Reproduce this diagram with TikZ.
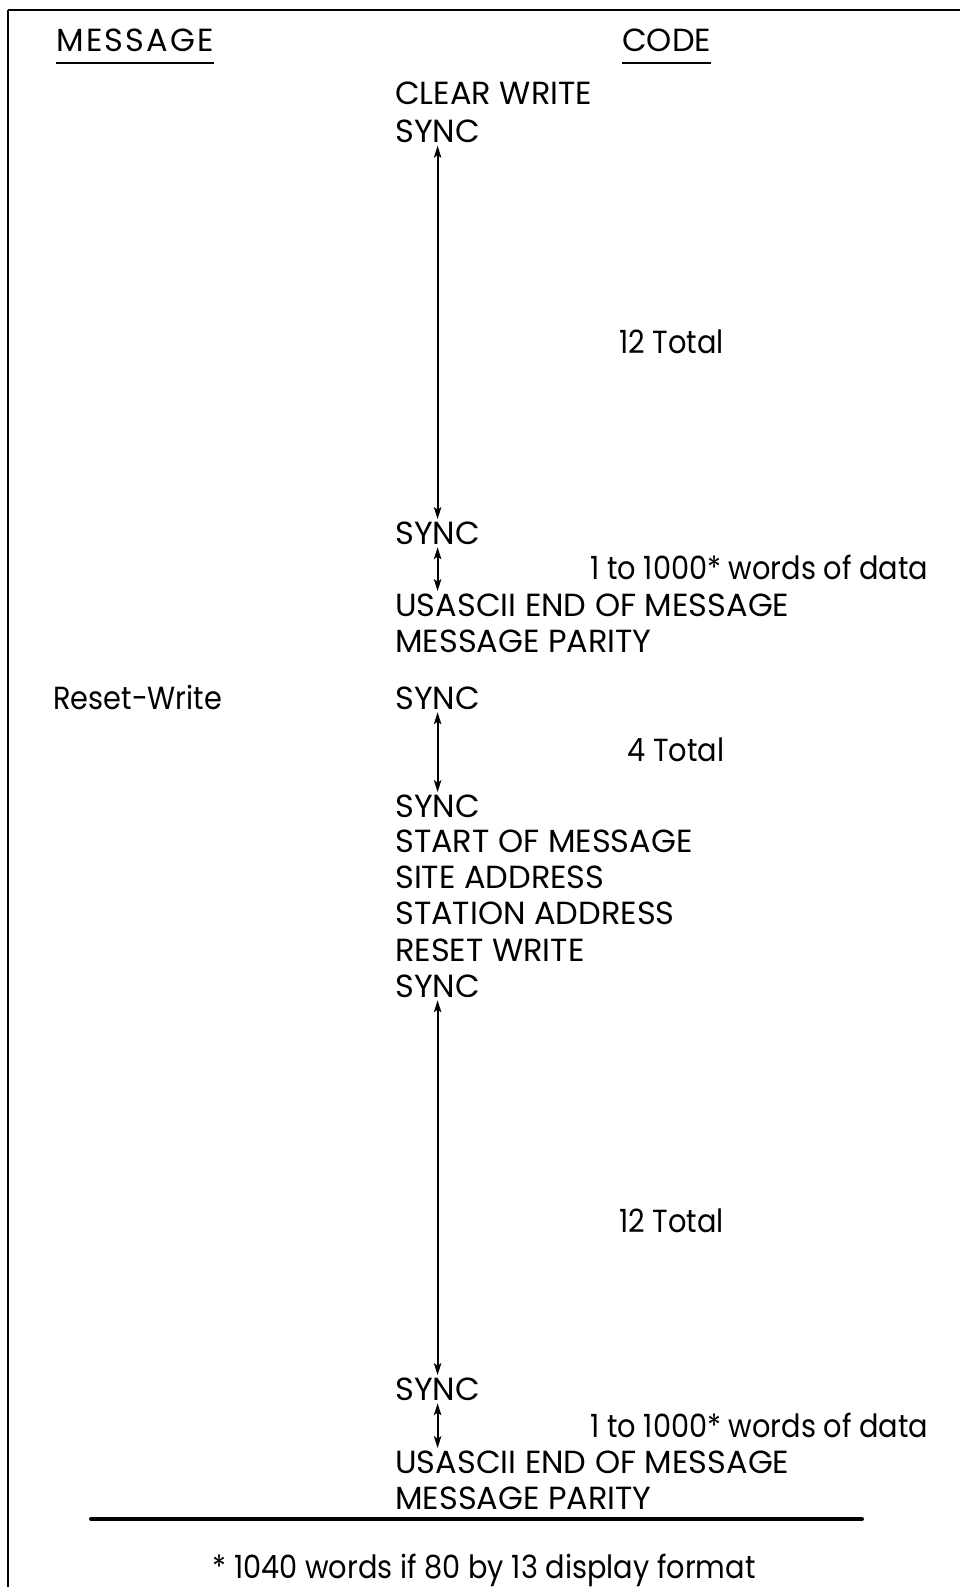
\documentclass[tikz,border=0pt]{standalone}
\usepackage{fontspec}
\setmainfont{Poppins}
\newfontfamily\lblfont{Poppins}[FakeStretch=0.9]
\usetikzlibrary{arrows.meta}
\begin{document}
\begin{tikzpicture}[x=0.75pt,y=-0.75pt,
  txt/.style={anchor=base west,inner sep=0pt,font=\fontsize{24pt}{28pt}\selectfont},
  lbl/.style={txt,font=\lblfont\fontsize{24pt}{28pt}\selectfont},
  span/.style={{Stealth[length=9pt,width=5.5pt,inset=2pt]}-{Stealth[length=9pt,width=5.5pt,inset=2pt]},line width=1.6pt,shorten <=2pt,shorten >=1.5pt},
  hdrline/.style={line width=2pt}]
\useasboundingbox (0,0) rectangle (960,1587);
% frame
\coordinate (ftl) at (8,10);
\coordinate (ftr) at (960,10);
\coordinate (fbl) at (8,1587);
\draw[line width=2.2pt] (ftr) -- (ftl);
\draw[line width=1.6pt] (ftl) -- (fbl);
% headers
\node[txt,font=\addfontfeature{LetterSpace=7}\fontsize{24pt}{28pt}\selectfont] (hmsg) at (56,52) {MESSAGE};
\node[txt] (hcode) at (622,52) {CODE};
\draw[hdrline] ([yshift=-8pt]hmsg.south west) -- ([yshift=-8pt]hmsg.south east);
\draw[hdrline] ([yshift=-8pt]hcode.south west) -- ([yshift=-8pt]hcode.south east);
% first block
\node[txt] (cw) at (395,105) {CLEAR WRITE};
\node[txt] (s1) at (395,142.5) {SYNC};
\node[lbl] (t1) at (619,353) {12 Total};
\node[txt] (s2) at (395,544) {SYNC};
\node[lbl] (d1) at (590,579.5) {1 to 1000* words of data};
\node[txt] (u1) at (395,616) {USASCII END OF MESSAGE};
\node[txt] (p1) at (395,652) {MESSAGE PARITY};
\draw[span] (s1.south) -- (s2.north);
\draw[span] (s2.south) -- (s2.south |- u1.north);
% reset-write block
\node[lbl] (rw) at (53,709) {Reset-Write};
\node[txt] (s3) at (395,709) {SYNC};
\node[lbl] (t2) at (627,761) {4 Total};
\node[txt] (s4) at (395,817) {SYNC};
\node[txt] (som) at (395,852) {START OF MESSAGE};
\node[txt] (site) at (395,888) {SITE ADDRESS};
\node[txt] (stat) at (395,924) {STATION ADDRESS};
\node[txt] (rwc) at (395,961) {RESET WRITE};
\node[txt] (s5) at (395,997) {SYNC};
\draw[span] (s3.south) -- (s4.north);
\node[lbl] (t3) at (619,1232) {12 Total};
\node[txt] (s6) at (395,1400) {SYNC};
\draw[span] (s5.south) -- (s6.north);
\node[lbl] (d2) at (590,1437) {1 to 1000* words of data};
\node[txt] (u2) at (395,1473) {USASCII END OF MESSAGE};
\node[txt] (p2) at (395,1509) {MESSAGE PARITY};
\draw[span] (s6.south) -- (s6.south |- u2.north);
% rule and footnote
\coordinate (rl) at (91,1519);
\coordinate (rr) at (862,1519);
\draw[line width=3pt,line cap=round] (rl) -- (rr);
\node[lbl,anchor=base] (fn) at (484,1578) {* 1040 words if 80 by 13 display format};
\end{tikzpicture}
\end{document}
